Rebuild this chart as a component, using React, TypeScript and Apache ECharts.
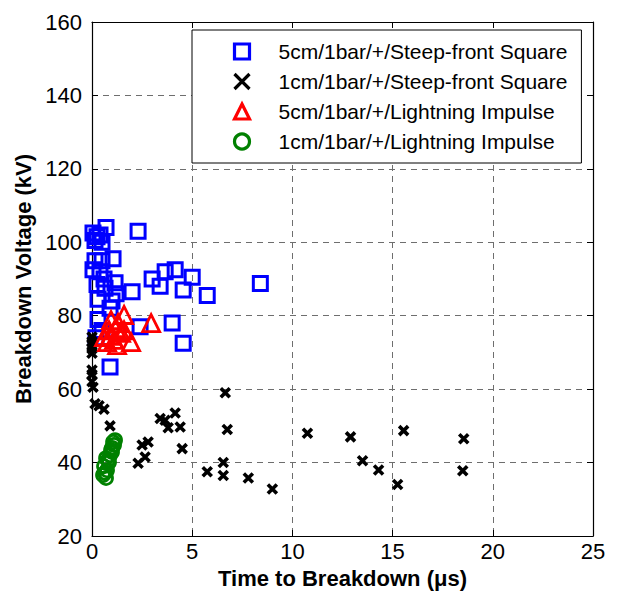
import React, { useEffect, useRef } from "react";
import * as echarts from "echarts";

const seriesNames = [
  "5cm/1bar/+/Steep-front Square",
  "1cm/1bar/+/Steep-front Square",
  "5cm/1bar/+/Lightning Impulse",
  "1cm/1bar/+/Lightning Impulse",
];

const xTicks = { min: 0, max: 25, interval: 5 };
const yTicks = { min: 20, max: 160, interval: 20 };

const squares5cm: number[][] = [
  [0.7, 104], [0.05, 102.5], [0.4, 102], [0.15, 100.5], [0.5, 100], [0.25, 101.5],
  [1.05, 95.5], [0.15, 95], [0.05, 92.5], [0.4, 92], [0.5, 95], [1.15, 89],
  [0.25, 88.5], [0.65, 87.5], [2.0, 86.5], [2.3, 103], [3.0, 90], [3.4, 88],
  [3.65, 92], [4.15, 92.5], [5.0, 90.5], [4.55, 87], [5.75, 85.5], [8.4, 88.8],
  [0.3, 84.5], [1.0, 84], [0.9, 82], [4.0, 78], [2.4, 77], [4.55, 72.5],
  [0.9, 66], [0.3, 79], [0.5, 76], [0.2, 74], [1.2, 86], [0.6, 90],
];

const crosses1cm: number[][] = [
  [0, 74.2], [0, 73], [0, 72], [0, 71], [0, 69.8], [0, 65.2], [0, 64], [0, 62],
  [0.05, 60.5], [0.15, 56], [0.35, 55.5], [0.6, 54.5], [0.9, 50], [3.4, 52],
  [3.65, 51.5], [3.8, 49.5], [4.15, 53.5], [4.4, 49.7], [4.5, 43.8], [2.5, 44.8],
  [2.8, 45.6], [2.65, 41.5], [2.3, 39.8], [6.65, 59], [6.75, 49], [10.75, 48],
  [6.55, 40], [6.55, 36.5], [5.75, 37.5], [7.8, 35.8], [9.0, 32.8], [12.9, 47],
  [13.5, 40.5], [14.3, 38], [15.25, 34], [15.55, 48.7], [18.55, 46.5], [18.5, 37.8],
];

const triangles5cm: number[][] = [
  [0.95, 78.8], [1.6, 80.2], [2.95, 78], [0.85, 76], [1.2, 76.6], [1.45, 75.3],
  [1.95, 72.8], [0.75, 72.8], [1.1, 73.4], [1.25, 72], [0.6, 74.2], [1.6, 76],
  [1.3, 78], [0.9, 74.5],
];

const circles1cm: number[][] = [
  [0.7, 35.8], [0.65, 37.2], [0.6, 39], [0.8, 40.7], [0.9, 42], [1.0, 44],
  [1.05, 45.6], [0.75, 37.9], [0.85, 40.1], [0.95, 43.4], [1.1, 44.8], [0.55, 36.6],
  [0.7, 41.2], [1.0, 42.9], [1.15, 46.1],
];

const FONT = "'Liberation Sans', Arial, Helvetica, sans-serif";

export default function App() {
  const ref = useRef<HTMLDivElement>(null);
  useEffect(() => {
    if (!ref.current) return;
    const chart = echarts.init(ref.current, undefined, { renderer: "svg" });
    const axisLine = { show: true, onZero: false, lineStyle: { color: "#000", width: 1.2 } };
    const tick = { show: true, inside: true, length: 6, lineStyle: { color: "#000" } };
    const split = { show: true, lineStyle: { type: [6, 5] as any, color: "#6e6e6e", width: 1 } };
    chart.setOption({
      animation: false,
      backgroundColor: "#fff",
      textStyle: { fontFamily: FONT },
      grid: { left: 92, right: 25, top: 22, bottom: 63, containLabel: false },
      legend: {
        orient: "vertical",
        left: 192,
        top: 30,
        backgroundColor: "#fff",
        borderColor: "#000",
        borderWidth: 1,
        borderRadius: 0,
        padding: [11, 14, 11, 40],
        itemWidth: 15,
        itemHeight: 15,
        itemGap: 9,
        textStyle: { fontSize: 21, color: "#000", fontFamily: FONT, padding: [0, 0, 0, 24] },
        data: [
          { name: seriesNames[0], itemStyle: { borderWidth: 3.2 } },
          { name: seriesNames[1], itemStyle: { borderWidth: 3.2 } },
          { name: seriesNames[2], itemStyle: { borderWidth: 3.2 } },
          { name: seriesNames[3], itemStyle: { borderWidth: 3.2 } },
        ],
      },
      xAxis: [
        {
          type: "value",
          min: xTicks.min,
          max: xTicks.max,
          interval: xTicks.interval,
          position: "bottom",
          name: "Time to Breakdown (μs)",
          nameLocation: "middle",
          nameGap: 31,
          nameTextStyle: { fontSize: 22, fontWeight: "bold", color: "#000", fontFamily: FONT },
          axisLine,
          axisTick: tick,
          axisLabel: { fontSize: 22, color: "#000", margin: 4, fontFamily: FONT },
          splitLine: split,
        },
        {
          type: "value",
          min: xTicks.min,
          max: xTicks.max,
          interval: xTicks.interval,
          position: "top",
          axisLine,
          axisTick: tick,
          axisLabel: { show: false },
          splitLine: { show: false },
        },
      ],
      yAxis: [
        {
          type: "value",
          min: yTicks.min,
          max: yTicks.max,
          interval: yTicks.interval,
          position: "left",
          name: "Breakdown Voltage (kV)",
          nameLocation: "middle",
          nameGap: 57,
          nameTextStyle: { fontSize: 22, fontWeight: "bold", color: "#000", fontFamily: FONT },
          axisLine,
          axisTick: tick,
          axisLabel: { fontSize: 22, color: "#000", margin: 10, fontFamily: FONT },
          splitLine: split,
        },
        {
          type: "value",
          min: yTicks.min,
          max: yTicks.max,
          interval: yTicks.interval,
          position: "right",
          axisLine,
          axisTick: tick,
          axisLabel: { show: false },
          splitLine: { show: false },
        },
      ],
      series: [
        {
          name: seriesNames[0],
          type: "scatter",
          data: squares5cm,
          symbol: "rect",
          symbolSize: 14,
          itemStyle: { color: "none", borderColor: "#0000ff", borderWidth: 3, opacity: 1 },
        },
        {
          name: seriesNames[1],
          type: "scatter",
          data: crosses1cm,
          symbol: "path://M0 0L10 10M10 0L0 10",
          symbolSize: 9,
          itemStyle: { color: "#000", borderColor: "#000", borderWidth: 3.6, opacity: 1 },
        },
        {
          name: seriesNames[2],
          type: "scatter",
          data: triangles5cm,
          symbol: "triangle",
          symbolSize: 17,
          itemStyle: { color: "none", borderColor: "#ff0000", borderWidth: 2.8, opacity: 1 },
        },
        {
          name: seriesNames[3],
          type: "scatter",
          data: circles1cm,
          symbol: "circle",
          symbolSize: 13,
          itemStyle: { color: "none", borderColor: "#008000", borderWidth: 2.8, opacity: 1 },
        },
      ],
    });
    return () => chart.dispose();
  }, []);
  return <div ref={ref} style={{ width: 618, height: 599, position: "absolute", left: 0, top: 0 }} />;
}
